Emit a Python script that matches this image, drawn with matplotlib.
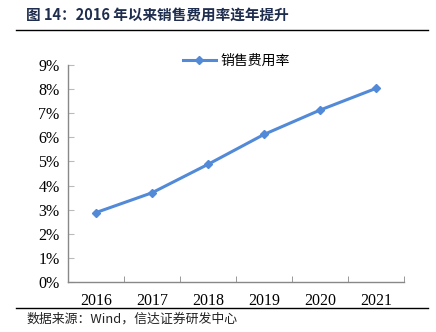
import matplotlib
matplotlib.use('Agg')
import matplotlib.pyplot as plt
from matplotlib.lines import Line2D
from matplotlib.ticker import FuncFormatter, MultipleLocator

years = ['2016', '2017', '2018', '2019', '2020', '2021']
sales_ratio = [2.88, 3.70, 4.88, 6.12, 7.13, 8.03]

cjk = ['Noto Sans CJK SC', 'DejaVu Sans']

fig = plt.figure(figsize=(4.36, 3.32), dpi=100)
ax = fig.add_axes([68 / 436, 1 - 282 / 332, (404 - 68) / 436, (282 - 65) / 332])

x = list(range(len(years)))
ax.plot(x, sales_ratio, color='#528AD8', lw=2.2, marker='D', ms=4.5,
        label='销售费用率')

ax.set_xlim(-0.5, len(years) - 0.5)
ax.set_ylim(0, 9)
ax.yaxis.set_major_locator(MultipleLocator(1))
ax.yaxis.set_major_formatter(FuncFormatter(lambda v, p: '%d%%' % round(v)))
ax.set_xticks(x)
ax.set_xticklabels(years)
ax.set_xticks([i + 0.5 for i in range(-1, len(years))], minor=True)
ax.tick_params(axis='x', which='major', length=0, pad=8)
ax.tick_params(axis='x', which='minor', direction='in', length=4, color='#888888')
ax.tick_params(axis='y', direction='in', length=4, color='#bbbbbb', pad=6)
for lab in ax.get_xticklabels() + ax.get_yticklabels():
    lab.set_fontfamily('Liberation Serif')
    lab.set_fontsize(11.5)
for s in ['top', 'right']:
    ax.spines[s].set_visible(False)
for s in ['left', 'bottom']:
    ax.spines[s].set_color('#888888')
    ax.spines[s].set_linewidth(1)

ax.legend(loc='upper center', bbox_to_anchor=(0.5, 1.11), frameon=False,
          prop={'family': cjk, 'size': 10}, handlelength=2.4, handletextpad=0.3)

fig.text(26 / 436, 1 - 15 / 332, '图 14：2016 年以来销售费用率连年提升', family=cjk,
         fontsize=10.5, fontweight='bold', color='#1F2D4F', va='center')
fig.add_artist(Line2D([16 / 436, 428 / 436], [1 - 30 / 332] * 2, color='black', lw=1))
fig.add_artist(Line2D([16 / 436, 428 / 436], [1 - 308 / 332] * 2, color='black', lw=1))
fig.text(26 / 436, 1 - 319 / 332, '数据来源：Wind，信达证券研发中心', family=cjk,
         fontsize=9.3, style='italic', color='#222222', va='center')

fig.savefig('out.png', dpi=100)
